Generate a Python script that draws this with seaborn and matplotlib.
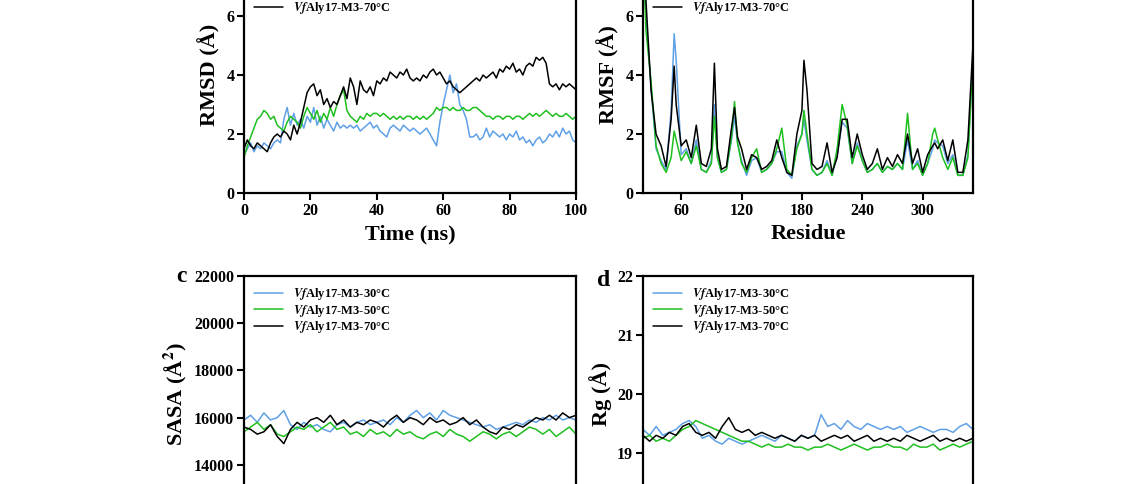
import numpy as np
import pandas as pd
import seaborn as sns
import matplotlib.pyplot as plt

# ---- data ----
time_rmsd = list(range(0, 101))
rmsd_30 = [1.3,1.5,1.7,1.4,1.6,1.5,1.7,1.6,1.5,1.7,1.8,1.7,2.5,2.9,2.3,2.7,2.3,2.5,2.2,2.6,2.4,2.9,2.3,2.6,2.2,2.5,2.3,2.1,2.4,2.2,
           2.3,2.2,2.3,2.2,2.3,2.1,2.2,2.3,2.4,2.2,2.3,2.1,2.0,1.9,2.2,2.3,2.2,2.1,2.3,2.2,2.1,2.2,2.1,2.0,2.1,2.2,2.0,1.8,1.6,2.4,
           3.0,3.5,4.0,3.4,3.7,3.0,2.8,2.5,1.9,1.9,2.0,1.8,1.9,2.2,1.9,2.1,2.0,1.9,2.0,1.8,2.0,1.9,2.1,1.8,1.9,1.7,1.8,1.6,1.8,1.9,
           1.7,1.8,2.0,1.9,2.1,1.9,2.2,2.0,2.1,1.8,1.7]
rmsd_50 = [1.2,1.6,1.9,2.2,2.5,2.6,2.8,2.7,2.5,2.6,2.3,2.2,2.1,2.4,2.6,2.5,2.4,2.2,2.6,2.9,2.7,2.5,2.8,2.4,2.7,2.5,2.9,2.6,3.0,3.3,
           3.5,2.8,2.6,2.5,2.4,2.6,2.5,2.7,2.6,2.7,2.7,2.6,2.7,2.6,2.5,2.6,2.5,2.6,2.5,2.6,2.6,2.5,2.6,2.5,2.6,2.5,2.6,2.7,2.9,2.8,
           2.9,2.9,2.8,2.9,2.8,2.8,2.9,2.8,2.8,2.9,2.9,2.8,2.7,2.6,2.6,2.5,2.6,2.6,2.5,2.6,2.6,2.5,2.6,2.6,2.5,2.6,2.7,2.6,2.7,2.6,
           2.7,2.8,2.7,2.6,2.7,2.6,2.6,2.7,2.6,2.5,2.6]
rmsd_70 = [1.5,1.8,1.6,1.5,1.7,1.6,1.5,1.4,1.7,1.9,2.0,1.9,2.1,2.0,1.8,2.3,2.0,2.4,2.9,3.4,3.6,3.7,3.3,3.5,3.0,3.2,2.9,3.1,3.0,3.3,
           3.6,3.2,3.9,3.6,3.0,3.8,3.5,3.4,3.6,3.3,3.8,3.7,3.9,3.8,4.1,4.0,3.9,4.1,4.0,4.2,3.9,3.8,3.9,3.8,4.0,3.9,4.1,4.2,4.0,4.1,
           3.9,3.7,3.8,3.6,3.5,3.4,3.5,3.6,3.7,3.8,3.9,3.8,4.0,3.9,4.0,4.1,3.9,4.2,4.1,4.3,4.2,4.4,4.1,4.2,4.0,4.3,4.4,4.3,4.6,4.5,
           4.6,4.4,3.7,3.6,3.7,3.5,3.7,3.6,3.7,3.6,3.5]

residue = [22,25,30,35,40,45,50,53,55,60,65,70,75,80,85,90,93,96,100,105,110,113,116,120,125,130,135,140,145,150,
           155,160,165,170,175,180,182,185,190,195,200,205,210,215,220,225,230,235,240,245,250,255,260,265,270,275,280,285,290,295,
           300,305,310,312,315,320,325,330,335,340,345,350]
rmsf_70 = [8.5,6.5,3.5,2.0,1.6,0.9,2.5,4.3,3.0,1.6,1.8,1.2,2.3,1.0,0.9,1.5,4.4,1.5,0.8,0.9,2.2,2.9,1.9,1.5,0.8,1.3,1.2,0.8,0.9,1.1,
           1.8,1.2,0.7,0.6,2.0,2.8,4.5,3.5,1.0,0.8,0.9,1.7,0.7,1.2,2.5,2.5,1.2,2.0,1.3,0.8,1.0,1.5,0.8,1.2,0.9,1.3,1.0,2.0,1.0,1.5,
           0.7,1.3,1.6,1.7,1.5,1.8,1.1,1.8,0.7,0.7,1.8,5.0]
rmsf_50 = [8.5,5.5,3.8,1.6,1.0,0.7,1.2,2.1,1.8,1.1,1.4,1.0,1.6,0.8,0.7,1.0,2.6,1.2,0.7,0.8,1.9,3.1,1.7,1.0,0.7,1.2,1.5,0.7,0.8,1.0,
           1.5,2.2,0.8,0.6,1.5,2.0,2.8,2.0,0.8,0.6,0.7,1.0,0.6,1.5,3.0,2.3,1.0,1.6,1.1,0.7,0.8,1.0,0.7,0.9,0.8,1.0,0.8,2.7,0.8,1.0,
           0.6,1.0,2.0,2.2,1.8,1.2,0.8,1.2,0.6,0.6,1.2,4.5]
rmsf_30 = [8.5,6.0,3.6,1.5,1.1,0.8,2.8,5.4,4.5,1.3,1.5,1.0,1.8,0.8,0.7,1.1,3.0,1.2,0.7,0.8,1.8,2.6,1.7,1.1,0.6,1.1,1.2,0.7,0.8,1.0,
           1.4,1.4,0.7,0.5,1.6,2.0,2.5,1.8,0.8,0.6,0.7,1.1,0.6,1.3,2.4,2.2,1.0,1.7,1.1,0.7,0.8,1.0,0.7,0.9,0.8,1.0,0.8,1.8,0.8,1.1,
           0.6,1.0,1.5,1.8,1.7,1.6,1.0,1.3,0.6,0.6,1.3,4.6]

time_2ns = list(range(0, 101, 2))
sasa_30 = [15900,16100,15800,16200,15900,16000,16300,15700,15500,15800,15600,15700,15500,15400,15700,15800,15600,15800,15900,15700,
           15800,15900,15700,16000,15800,16100,16300,16000,16200,15900,16300,16100,16000,15900,15800,15700,15600,15700,15500,15600,
           15700,15800,15700,15900,15800,16000,15900,16100,15900,16000,15900]
sasa_50 = [15400,15600,15800,15500,15700,15300,15200,15400,15600,15500,15700,15400,15600,15800,15500,15600,15300,15400,15200,15500,
           15300,15400,15200,15500,15300,15400,15200,15100,15300,15400,15200,15500,15300,15200,15000,15200,15400,15300,15100,15300,
           15400,15200,15400,15600,15500,15300,15500,15200,15400,15600,15300]
sasa_70 = [15600,15500,15300,15400,15700,15200,14900,15500,15800,15600,15900,16000,15800,16100,15700,15900,15600,15800,15700,15900,
           15800,15600,15900,16100,15800,16000,15900,15700,16000,15800,15900,15700,15800,16000,15700,15900,15600,15400,15300,15600,
           15500,15700,15600,15800,16000,15900,16100,15900,16200,16000,16100]
rg_30 = [19.4,19.3,19.45,19.3,19.35,19.4,19.5,19.55,19.45,19.25,19.3,19.2,19.15,19.25,19.2,19.15,19.2,19.25,19.3,19.25,
         19.2,19.3,19.25,19.2,19.3,19.25,19.3,19.65,19.45,19.5,19.4,19.55,19.45,19.4,19.5,19.45,19.4,19.45,19.4,19.45,
         19.35,19.4,19.45,19.4,19.35,19.4,19.4,19.35,19.45,19.5,19.4]
rg_50 = [19.25,19.3,19.2,19.25,19.2,19.3,19.4,19.45,19.55,19.5,19.45,19.4,19.35,19.3,19.25,19.2,19.2,19.15,19.1,19.15,
         19.1,19.1,19.15,19.1,19.1,19.05,19.1,19.1,19.15,19.1,19.05,19.1,19.15,19.1,19.05,19.1,19.1,19.15,19.1,19.1,
         19.05,19.15,19.1,19.1,19.15,19.05,19.1,19.15,19.1,19.15,19.2]
rg_70 = [19.3,19.2,19.3,19.25,19.35,19.3,19.45,19.5,19.35,19.3,19.35,19.25,19.45,19.6,19.4,19.35,19.4,19.3,19.35,19.3,
         19.25,19.3,19.25,19.2,19.3,19.25,19.3,19.2,19.25,19.3,19.25,19.3,19.2,19.25,19.3,19.2,19.25,19.2,19.25,19.2,
         19.3,19.25,19.2,19.25,19.3,19.2,19.25,19.2,19.25,19.2,19.25]

labels = [r"$\it{Vf}$Aly17-M3-30°C", r"$\it{Vf}$Aly17-M3-50°C", r"$\it{Vf}$Aly17-M3-70°C"]
colors = ["#5fa0e6", "#1fbf1f", "#000000"]

sns.set_style("ticks")
plt.rcParams["font.family"] = ["Liberation Serif", "DejaVu Serif"]
plt.rcParams["font.weight"] = "bold"
plt.rcParams["mathtext.fontset"] = "stix"
plt.rcParams["text.color"] = "black"
plt.rcParams["axes.labelcolor"] = "black"
plt.rcParams["xtick.color"] = "black"
plt.rcParams["ytick.color"] = "black"

fig = plt.figure(figsize=(11.37, 4.84), dpi=100)
H = 0.4876
axa = fig.add_axes([0.2146, 0.6012, 0.292, H])
axb = fig.add_axes([0.5655, 0.6012, 0.2902, H])
axc = fig.add_axes([0.2146, -0.0579, 0.292, H])
axd = fig.add_axes([0.5655, -0.0579, 0.2902, H])

panels = [
    (axa, time_rmsd, [rmsd_30, rmsd_50, rmsd_70], (0, 100), (0, 8), [0, 20, 40, 60, 80, 100], [0, 2, 4, 6, 8], "Time (ns)", "RMSD (Å)"),
    (axb, residue, [rmsf_30, rmsf_50, rmsf_70], (22, 350), (0, 8), [60, 120, 180, 240, 300], [0, 2, 4, 6, 8], "Residue", "RMSF (Å)"),
    (axc, time_2ns, [sasa_30, sasa_50, sasa_70], (0, 100), (12000, 22000), [0, 20, 40, 60, 80, 100],
     [12000, 14000, 16000, 18000, 20000, 22000], "Time (ns)", "SASA (Å$^2$)"),
    (axd, time_2ns, [rg_30, rg_50, rg_70], (0, 100), (18, 22), [0, 20, 40, 60, 80, 100], [18, 19, 20, 21, 22], "Time (ns)", "Rg (Å)"),
]

for ax, x, series, xlim, ylim, xt, yt, xl, yl in panels:
    for ys, c, lab in zip(series, colors, labels):
        sns.lineplot(x=x, y=ys, ax=ax, color=c, lw=1.1, label=lab)
    ax.set_xlim(*xlim)
    ax.set_ylim(*ylim)
    ax.set_xticks(xt)
    ax.set_yticks(yt)
    ax.tick_params(direction="out", length=5, width=1.5, labelsize=11.5, pad=2)
    for t in ax.get_xticklabels() + ax.get_yticklabels():
        t.set_fontweight("bold")
    for s in ax.spines.values():
        s.set_linewidth(1.6)
        s.set_color("black")
    ax.set_xlabel(xl, fontsize=16, fontweight="bold", labelpad=4)
    ax.set_ylabel(yl, fontsize=16, fontweight="bold", labelpad=4)
    ax.legend(loc="upper left", frameon=False, handlelength=2.3,
              labelspacing=0.05, borderaxespad=0.4, prop={"weight": "bold", "size": 9})

fig.text(176 / 1137, 1 - 276 / 484, "c", fontsize=17, ha="left", va="center")
fig.text(597 / 1137, 1 - 280 / 484, "d", fontsize=17, ha="left", va="center")

fig.savefig("out.png", dpi=100)
